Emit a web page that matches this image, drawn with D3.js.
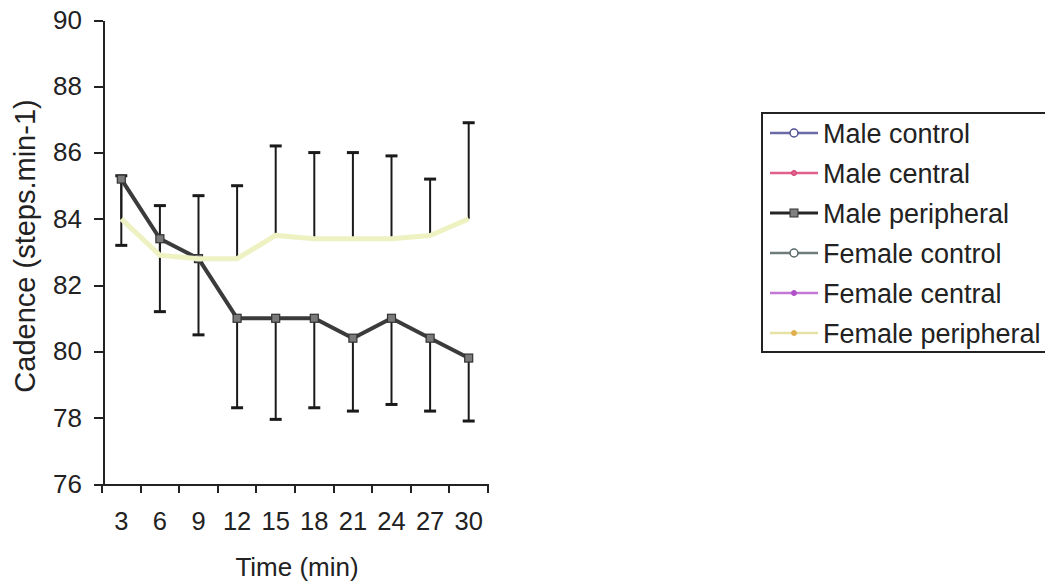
<!DOCTYPE html>
<html lang="en">
  <head>
    <meta charset="UTF-8" />
    <title>Cadence over time</title>
    <script src="https://d3js.org/d3.v7.min.js"></script>
    <style>
      body {
        margin: 0;
        background: #fff;
      }
      text {
        font-family: "Liberation Sans", Arial, sans-serif;
        fill: #222;
      }
      .axis path,
      .axis line {
        stroke: #222;
        stroke-width: 2;
        shape-rendering: crispEdges;
      }
    </style>
  </head>
  <body>
    <div id="chart"></div>
    <script>
      // values
      const times = [3, 6, 9, 12, 15, 18, 21, 24, 27, 30];
      const yTicks = [76, 78, 80, 82, 84, 86, 88, 90];

      const malePeripheral = [85.2, 83.4, 82.8, 81.0, 81.0, 81.0, 80.4, 81.0, 80.4, 79.8];
      const malePeripheralLow = [83.2, 81.2, 80.5, 78.3, 77.95, 78.3, 78.2, 78.4, 78.2, 77.9];

      const femalePeripheral = [84.0, 82.9, 82.8, 82.8, 83.5, 83.4, 83.4, 83.4, 83.5, 84.0];
      const femalePeripheralHigh = [85.3, 84.4, 84.7, 85.0, 86.2, 86.0, 86.0, 85.9, 85.2, 86.9];

      // series with no visible points in the figure
      const maleControl = [];
      const maleCentral = [];
      const femaleControl = [];
      const femaleCentral = [];

      const legendNames = [
        "Male control",
        "Male central",
        "Male peripheral",
        "Female control",
        "Female central",
        "Female peripheral",
      ];

      const width = 1045;
      const height = 587;

      const svg = d3.select("#chart").append("svg").attr("width", width).attr("height", height);

      const x = d3.scaleBand().domain(times).range([102, 488]).paddingInner(0).paddingOuter(0);
      const y = d3.scaleLinear().domain([76, 90]).range([484, 20]);
      const cx = (t) => x(t) + x.bandwidth() / 2;

      // y axis
      const yAxis = d3.axisLeft(y).tickValues(yTicks).tickSize(9).tickSizeOuter(0).tickPadding(12);
      const gy = svg.append("g").attr("class", "axis").attr("transform", "translate(103,0)").call(yAxis);
      gy.selectAll("text").attr("font-size", 26);

      // x axis: labels centred in categories, ticks between them
      const xAxis = d3.axisBottom(x).tickSize(0).tickSizeOuter(0).tickPadding(28);
      const gx = svg.append("g").attr("class", "axis").attr("transform", "translate(0,484)").call(xAxis);
      gx.selectAll("text").attr("font-size", 25.5);
      const bounds = times.map((t) => x(t)).concat([x(times[times.length - 1]) + x.bandwidth()]);
      gx.selectAll(".sep")
        .data(bounds)
        .enter()
        .append("line")
        .attr("class", "sep")
        .attr("x1", (d) => d)
        .attr("x2", (d) => d)
        .attr("y1", 0)
        .attr("y2", 9);

      // axis titles
      svg
        .append("text")
        .attr("x", 297)
        .attr("y", 576)
        .attr("text-anchor", "middle")
        .attr("font-size", 26)
        .text("Time (min)");

      svg
        .append("text")
        .attr("transform", "translate(35,246) rotate(-90)")
        .attr("text-anchor", "middle")
        .attr("font-size", 29)
        .text("Cadence (steps.min-1)");

      const line = d3
        .line()
        .x((d) => cx(d.t))
        .y((d) => y(d.v));

      const mp = times.map((t, i) => ({ t, v: malePeripheral[i], lo: malePeripheralLow[i] }));
      const fp = times.map((t, i) => ({ t, v: femalePeripheral[i], hi: femalePeripheralHigh[i] }));

      // error bars
      function errorBars(data, key) {
        const g = svg.append("g").attr("stroke", "#1a1a1a").attr("stroke-width", 2);
        g.selectAll(".bar")
          .data(data)
          .enter()
          .append("line")
          .attr("x1", (d) => cx(d.t))
          .attr("x2", (d) => cx(d.t))
          .attr("y1", (d) => y(d.v))
          .attr("y2", (d) => y(d[key]));
        g.selectAll(".cap")
          .data(data)
          .enter()
          .append("line")
          .attr("x1", (d) => cx(d.t) - 6)
          .attr("x2", (d) => cx(d.t) + 6)
          .attr("y1", (d) => y(d[key]))
          .attr("y2", (d) => y(d[key]))
          .attr("stroke-width", 3);
      }

      errorBars(mp, "lo");
      errorBars(fp, "hi");

      // male peripheral line + square markers
      svg
        .append("path")
        .datum(mp)
        .attr("fill", "none")
        .attr("stroke", "#3b3b3b")
        .attr("stroke-width", 4)
        .attr("d", line);
      svg
        .selectAll(".mpm")
        .data(mp)
        .enter()
        .append("rect")
        .attr("x", (d) => cx(d.t) - 4)
        .attr("y", (d) => y(d.v) - 4)
        .attr("width", 8)
        .attr("height", 8)
        .attr("fill", "#7a7a7a")
        .attr("stroke", "#333")
        .attr("stroke-width", 1.2);

      // female peripheral line
      svg
        .append("path")
        .datum(fp)
        .attr("fill", "none")
        .attr("stroke", "#eef2c2")
        .attr("stroke-width", 5)
        .attr("d", line);

      // legend
      const legendStyles = [
        { stroke: "#6a6aa6", marker: "circle", mfill: "#fff", mstroke: "#505096" },
        { stroke: "#e0608a", marker: "plus", mfill: "#e0608a", mstroke: "#d04070" },
        { stroke: "#262626", marker: "square", mfill: "#808080", mstroke: "#333" },
        { stroke: "#6e7c7c", marker: "circle", mfill: "#fff", mstroke: "#5a6a6a" },
        { stroke: "#c478d6", marker: "plus", mfill: "#b050c8", mstroke: "#b050c8" },
        { stroke: "#e6e2a6", marker: "plus", mfill: "#e0b050", mstroke: "#e0b050" },
      ];
      const seriesData = [maleControl, maleCentral, mp, femaleControl, femaleCentral, fp];

      const legend = svg.append("g");
      legend
        .append("rect")
        .attr("x", 762)
        .attr("y", 113)
        .attr("width", 284)
        .attr("height", 239)
        .attr("fill", "#fff")
        .attr("stroke", "#222")
        .attr("stroke-width", 2);

      const items = legend
        .selectAll(".item")
        .data(legendNames)
        .enter()
        .append("g")
        .attr("transform", (d, i) => `translate(0,${133 + i * 40})`);

      items
        .append("line")
        .attr("x1", 770)
        .attr("x2", 818)
        .attr("stroke", (d, i) => legendStyles[i].stroke)
        .attr("stroke-width", (d, i) => (i === 2 ? 3 : 2.5));

      items.each(function (d, i) {
        const s = legendStyles[i];
        const g = d3.select(this);
        if (s.marker === "circle") {
          g.append("circle").attr("cx", 794).attr("r", 4).attr("fill", s.mfill).attr("stroke", s.mstroke).attr("stroke-width", 1.5);
        } else if (s.marker === "square") {
          g.append("rect").attr("x", 790).attr("y", -4).attr("width", 8).attr("height", 8).attr("fill", s.mfill).attr("stroke", s.mstroke);
        } else {
          g.append("circle").attr("cx", 794).attr("r", 2.5).attr("fill", s.mfill).attr("stroke", s.mstroke);
        }
      });

      items
        .append("text")
        .attr("x", 823)
        .attr("dy", "0.36em")
        .attr("font-size", 27)
        .text((d) => d);
    </script>
  </body>
</html>
